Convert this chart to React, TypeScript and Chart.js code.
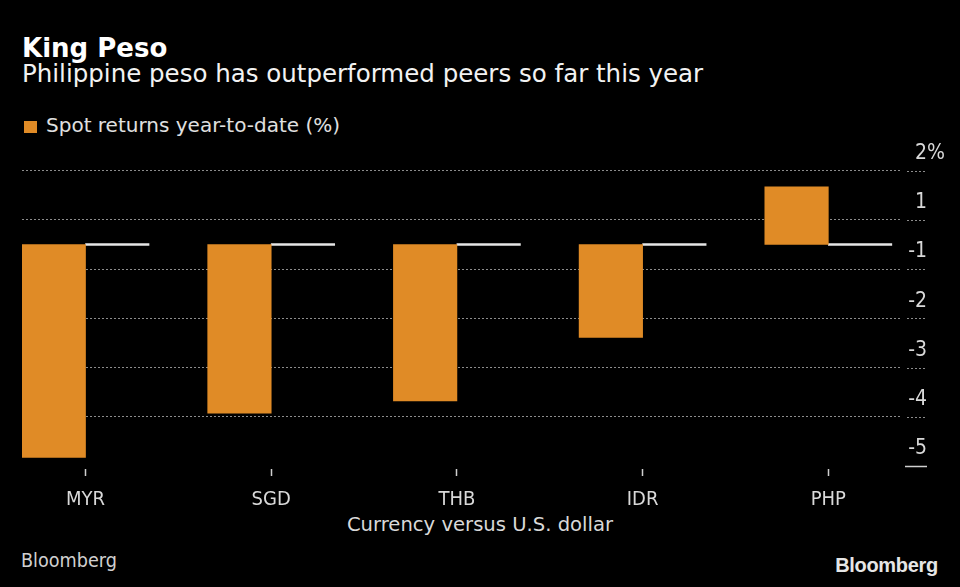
import React, { useEffect, useRef } from "react";
import { Chart, registerables } from "chart.js";

Chart.register(...registerables);

// ---- data ----
const categories = ["MYR", "SGD", "THB", "IDR", "PHP"];
const spotReturns = [-4.33, -3.43, -3.18, -1.89, 1.17];
const baselineValues = [0, 0, 0, 0, 0];
const yGridValues = [1.5, 0.5, -0.5, -1.5, -2.5, -3.5, -4.5];
const yLabelValues = [2, 1, 0, -1, -2, -3, -4];
const yTickLabels = ["2%", "1", "-1", "-2", "-3", "-4", "-5"];

const COND = "'DejaVu Sans Condensed', 'DejaVu Sans', sans-serif";
const REG = "'DejaVu Sans', sans-serif";

const rightAxisPlugin = {
  id: "rightAxisLabels",
  afterDraw(chart: any) {
    const y = chart.scales.y;
    const ctx = chart.ctx;
    ctx.save();
    yGridValues.forEach((v, i) => {
      const py = Math.round(y.getPixelForValue(v)) + 0.5;
      ctx.beginPath();
      if (i === yGridValues.length - 1) {
        ctx.setLineDash([]);
        ctx.strokeStyle = "#d0d0d0";
        ctx.lineWidth = 1.5;
        ctx.moveTo(905, py);
      } else {
        ctx.setLineDash([2, 2]);
        ctx.strokeStyle = "#8c8c8c";
        ctx.lineWidth = 1;
        ctx.moveTo(907, py);
      }
      ctx.lineTo(927, py);
      ctx.stroke();
    });
    ctx.setLineDash([]);
    ctx.font = "21px " + COND;
    ctx.fillStyle = "#d9d9d9";
    ctx.textBaseline = "middle";
    yLabelValues.forEach((v, i) => {
      const py = y.getPixelForValue(v) + 7.5;
      let txt = yTickLabels[i];
      let suffix = "";
      if (txt.endsWith("%")) {
        suffix = "%";
        txt = txt.slice(0, -1);
      }
      ctx.textAlign = "right";
      ctx.fillText(txt, 927, py);
      if (suffix) {
        ctx.textAlign = "left";
        ctx.fillText(suffix, 927, py);
      }
    });
    ctx.restore();
  },
};

function BarChart() {
  const ref = useRef<HTMLCanvasElement>(null);
  useEffect(() => {
    if (!ref.current) return;
    const chart = new Chart(ref.current, {
      type: "bar",
      data: {
        datasets: [
          {
            label: "Spot returns year-to-date (%)",
            data: spotReturns.map((v, i) => ({ x: i, y: v })),
            backgroundColor: "#e08b26",
            borderWidth: 0,
            barThickness: 63.5,
          },
          {
            label: "Baseline",
            data: baselineValues.map((v, i) => ({ x: i, y: v })),
            backgroundColor: "#e6e6e6",
            borderWidth: 0,
            barThickness: 63.5,
            minBarLength: 2,
          },
        ],
      },
      options: {
        animation: false,
        responsive: false,
        maintainAspectRatio: false,
        layout: { padding: { left: 22, right: 0, top: 6.1, bottom: 0 } },
        plugins: {
          legend: { display: false },
          tooltip: { enabled: false },
          title: { display: false },
        },
        scales: {
          x: {
            type: "linear",
            offset: false,
            min: -0.342,
            max: 4.386,
            afterBuildTicks: (scale: any) => {
              scale.ticks = categories.map((_, i) => ({ value: i }));
            },
            afterFit: (scale: any) => {
              scale.height = 46.1;
            },
            ticks: {
              autoSkip: false,
              maxRotation: 0,
              padding: 12,
              color: "#d9d9d9",
              font: { family: COND, size: 20 },
              callback: (_v: any, i: number) => categories[i],
            },
            grid: {
              offset: false,
              drawOnChartArea: false,
              drawTicks: true,
              tickLength: 10,
              tickColor: "#cfcfcf",
              tickWidth: 1.5,
              tickBorderDash: [0, 3, 7, 100],
            },
            border: { display: false },
          },
          y: {
            position: "right",
            min: -4.5,
            max: 2,
            afterBuildTicks: (scale: any) => {
              scale.ticks = yGridValues.map((v) => ({ value: v }));
            },
            afterFit: (scale: any) => {
              scale.width = 60;
            },
            ticks: { display: false },
            grid: {
              drawTicks: false,
              lineWidth: 1,
              color: (c: any) =>
                c.tick && c.tick.value === -4.5 ? "rgba(0,0,0,0)" : "#8c8c8c",
            },
            border: { display: false, dash: [2, 2] },
          },
        },
      },
      plugins: [rightAxisPlugin],
    });
    return () => chart.destroy();
  }, []);
  return (
    <canvas
      ref={ref}
      width={960}
      height={372}
      style={{ position: "absolute", left: 0, top: 140, width: 960, height: 372 }}
    />
  );
}

export default function App() {
  useEffect(() => {
    document.body.style.margin = "0";
    document.body.style.background = "#000";
  }, []);
  const base: React.CSSProperties = { position: "absolute", whiteSpace: "nowrap" };
  return (
    <div
      style={{
        position: "absolute",
        left: 0,
        top: 0,
        width: 960,
        height: 587,
        background: "#000",
        overflow: "hidden",
      }}
    >
      <div
        style={{
          ...base,
          left: 22,
          top: 35,
          font: `bold 26px ${REG}`,
          lineHeight: "26px",
          color: "#ffffff",
        }}
      >
        King Peso
      </div>
      <div
        style={{
          ...base,
          left: 22,
          top: 62.3,
          font: `24.5px ${REG}`,
          lineHeight: "24.5px",
          color: "#f2f2f2",
        }}
      >
        Philippine peso has outperformed peers so far this year
      </div>
      <div
        style={{
          ...base,
          left: 24,
          top: 121,
          width: 13,
          height: 12,
          background: "#e08b26",
        }}
      />
      <div
        style={{
          ...base,
          left: 46,
          top: 115.1,
          font: `20px ${REG}`,
          lineHeight: "20px",
          color: "#e0e0e0",
        }}
      >
        Spot returns year-to-date (%)
      </div>
      <BarChart />
      <div
        style={{
          ...base,
          left: 0,
          width: 960,
          textAlign: "center",
          top: 515.4,
          font: `19.6px ${REG}`,
          lineHeight: "19.6px",
          color: "#d9d9d9",
        }}
      >
        Currency versus U.S. dollar
      </div>
      <div
        style={{
          ...base,
          left: 21,
          top: 551,
          font: `19.6px ${COND}`,
          lineHeight: "19.6px",
          color: "#d0d0d0",
        }}
      >
        Bloomberg
      </div>
      <div
        style={{
          ...base,
          right: 22,
          top: 555,
          font: "bold 20px 'Liberation Sans', Arial, sans-serif",
          lineHeight: "20px",
          color: "#e6e6e6",
          letterSpacing: "-0.3px",
        }}
      >
        Bloomberg
      </div>
    </div>
  );
}
